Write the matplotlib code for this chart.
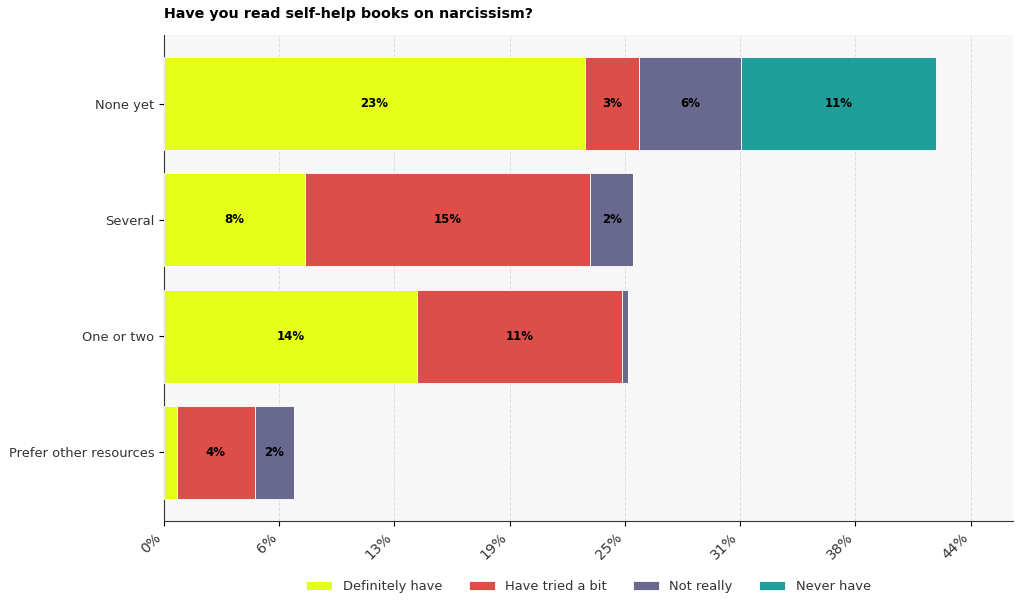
import matplotlib
matplotlib.use("Agg")
import matplotlib.pyplot as plt
import numpy as np

categories = ["None yet", "Several", "One or two", "Prefer other resources"]
series_names = ["Definitely have", "Have tried a bit", "Not really", "Never have"]
definitely = [22.83, 7.65, 13.72, 0.70]
tried = [2.93, 15.46, 11.12, 4.23]
not_really = [5.53, 2.33, 0.33, 2.11]
never = [10.57, 0.0, 0.0, 0.0]
tick_values = [0, 6.25, 12.5, 18.75, 25, 31.25, 37.5, 43.75]
tick_labels = ["0%", "6%", "13%", "19%", "25%", "31%", "38%", "44%"]

colors = ["#e4ff1a", "#dd4e48", "#69688f", "#1f9e9a"]
series = [definitely, tried, not_really, never]

fig = plt.figure(figsize=(10.24, 6.10), dpi=100)
ax = fig.add_axes([164/1024, 1-521/610, (1013-164)/1024, (521-35)/610])
ax.set_facecolor("#f7f7f7")

y = np.arange(len(categories))
left = np.zeros(len(categories))
for name, vals, c in zip(series_names, series, colors):
    vals = np.array(vals)
    ax.barh(y, vals, left=left, height=0.8, color=c, label=name,
            edgecolor="white", linewidth=0.6, zorder=3)
    for i, v in enumerate(vals):
        if v >= 1.5:
            ax.text(left[i] + v/2, y[i], f"{v:.0f}%", ha="center", va="center",
                    fontsize=8.5, fontweight="bold", color="black", zorder=4)
    left += vals

ax.set_yticks(y)
ax.set_yticklabels(categories, fontsize=9.4, color="#333333")
ax.set_ylim(3.59, -0.59)
ax.set_xlim(0, max(left) * 1.1)
ax.set_xticks(tick_values)
ax.set_xticklabels(tick_labels, rotation=45, ha="right", fontsize=10,
                   color="#333333")
ax.grid(axis="x", linestyle="--", color="#dddddd", linewidth=0.7, zorder=0)
ax.spines["top"].set_visible(False)
ax.spines["right"].set_visible(False)
ax.spines["left"].set_color("#333333")
ax.spines["bottom"].set_color("#333333")

ax.set_title("Have you read self-help books on narcissism?", loc="left",
             fontsize=10.3, fontweight="bold", pad=12)

leg = ax.legend(loc="upper center", bbox_to_anchor=(0.5, -0.098), ncol=4,
                frameon=False, fontsize=9.4, handlelength=2.0, columnspacing=2.0)
for t in leg.get_texts():
    t.set_color("#333333")

fig.savefig("out.png", dpi=100, facecolor="white")
